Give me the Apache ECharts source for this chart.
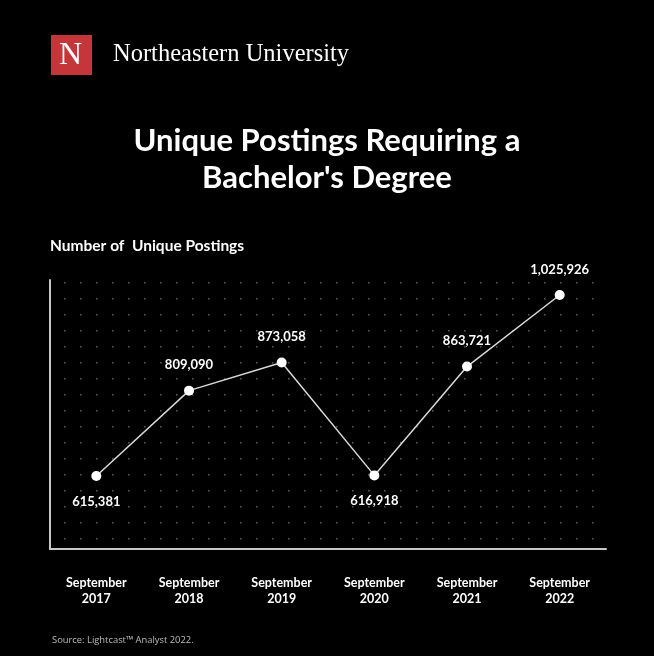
<!DOCTYPE html>
<html>
<head>
<meta charset="utf-8">
<style>
html,body{margin:0;padding:0;background:#000;}
#chart{width:654px;height:656px;}
</style>
<script src="https://cdn.jsdelivr.net/npm/echarts@6/dist/echarts.min.js"></script>
</head>
<body>
<div id="chart"></div>
<script>
var categories = ['September\n2017','September\n2018','September\n2019','September\n2020','September\n2021','September\n2022'];
var postings = [615381, 809090, 873058, 616918, 863721, 1025926];
var labelPositions = ['bottom','top','top','bottom','top','top'];

var tile = document.createElement('canvas');
tile.width = 16; tile.height = 16;
var tctx = tile.getContext('2d');
tctx.fillStyle = '#5a5a5a';
tctx.beginPath();
tctx.arc(0.75, 10.75, 0.9, 0, Math.PI*2);
tctx.fill();

var chart = echarts.init(document.getElementById('chart'));
var fmt = function(v){ return v.toLocaleString('en-US'); };

chart.setOption({
  backgroundColor: '#000',
  animation: false,
  title: [
    {
      text: "Unique Postings Requiring a\nBachelor's Degree",
      left: 'center', top: 122, padding: 0,
      textStyle: {color:'#fff', fontFamily:'Lato', fontWeight:'bold', fontSize:31, lineHeight:37}
    },
    {
      text: 'Number of  Unique Postings',
      left: 50, top: 238, padding: 0,
      textStyle: {color:'#fff', fontFamily:'Lato', fontWeight:'bold', fontSize:15.5}
    },
    {
      text: 'Source: Lightcast\u2122 Analyst 2022.',
      left: 52, top: 636, padding: 0,
      textStyle: {color:'#bdbdbd', fontFamily:'Open Sans', fontWeight:'normal', fontSize:9.4}
    }
  ],
  graphic: [
    {type:'rect', left:51, top:35, shape:{width:41, height:40}, style:{fill:'#c5363b'}},
    {type:'text', left:59, top:40, style:{text:'N', fill:'#fff', font:'32px "Liberation Serif"'}},
    {type:'text', left:113, top:42, style:{text:'Northeastern University', fill:'#fff', font:'24.5px "Liberation Serif"'}}
  ],
  grid: {
    left: 50, right: 48, top: 280, bottom: 107,
    show: true, borderWidth: 0,
    backgroundColor: {image: tile, repeat: 'repeat'}
  },
  xAxis: {
    type: 'category',
    data: categories,
    boundaryGap: true,
    axisLine: {show:true, lineStyle:{color:'#c8c8c8', width:2}},
    axisTick: {show:false},
    splitLine: {show:false},
    axisLabel: {color:'#fff', fontFamily:'Lato', fontWeight:'bold', fontSize:12.5, lineHeight:16, margin:26}
  },
  yAxis: {
    type: 'value',
    min: 450000, max: 1060000,
    axisLine: {show:true, onZero:false, lineStyle:{color:'#c8c8c8', width:2}},
    axisTick: {show:false},
    axisLabel: {show:false},
    splitLine: {show:false}
  },
  series: [{
    type: 'line',
    data: postings.map(function(v,i){
      return {value:v, label:{position:labelPositions[i]}};
    }),
    symbol: 'circle',
    symbolSize: 10,
    lineStyle: {color:'#d9d9d9', width:1.5},
    itemStyle: {color:'#fff', borderColor:'#fff', borderWidth:0},
    label: {
      show: true, distance: 14,
      color:'#fff', fontFamily:'Lato', fontWeight:'bold', fontSize:13,
      formatter: function(p){ return fmt(p.value); }
    }
  }]
});
</script>
</body>
</html>
